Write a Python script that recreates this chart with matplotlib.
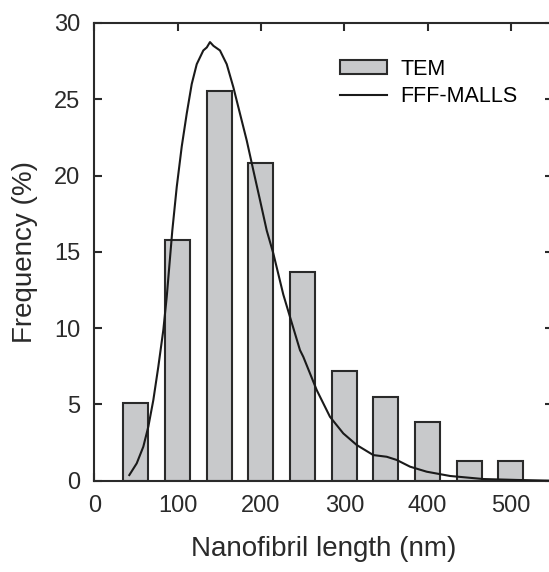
import matplotlib
matplotlib.use("Agg")
import matplotlib.pyplot as plt

plt.rcParams['font.family'] = ['Liberation Sans', 'DejaVu Sans']

bin_centers = [50, 100, 150, 200, 250, 300, 350, 400, 450, 500]
tem_freq = [5.1, 15.76, 25.54, 20.85, 13.65, 7.2, 5.5, 3.82, 1.27, 1.27]

curve_x = [42.0, 50.9, 58.8, 64.8, 70.8, 76.8, 82.8, 86.9, 93.6, 98.9, 104.9,
           110.9, 116.9, 122.9, 130.8, 135.0, 138.8, 143.0, 150.8, 158.9, 166.8,
           174.8, 182.9, 190.8, 198.8, 206.9, 214.8, 226.8, 234.8, 246.8, 250.8,
           266.9, 282.8, 298.8, 314.9, 334.8, 350.9, 362.9, 378.9, 398.9, 426.9,
           466.8, 506.8, 550.0]
curve_y = [0.37, 1.14, 2.23, 3.54, 5.28, 7.47, 9.87, 12.05, 16.4, 19.25, 21.9,
           24.06, 26.0, 27.3, 28.2, 28.4, 28.75, 28.5, 28.2, 27.3, 25.8,
           24.06, 22.3, 20.35, 18.4, 16.4, 14.9, 12.2, 10.74, 8.56, 8.12,
           5.94, 4.19, 3.1, 2.34, 1.68, 1.57, 1.36, 0.92, 0.59, 0.31,
           0.11, 0.05, 0.0]

xticks = [0, 100, 200, 300, 400, 500]
yticks = [0, 5, 10, 15, 20, 25, 30]

fig = plt.figure(figsize=(5.49, 5.72), dpi=100)
ax = fig.add_axes([0.1718, 0.1596, 0.8348, 0.8002])

ax.bar(bin_centers, tem_freq, width=30, color='#c8c9cb', edgecolor='#2a2a2a',
       linewidth=1.5, label='TEM', zorder=2)
ax.plot(curve_x, curve_y, color='#1a1a1a', linewidth=1.5, label='FFF-MALLS', zorder=3)

ax.set_xlim(0, 550)
ax.set_ylim(0, 30)
ax.set_xticks(xticks)
ax.set_yticks(yticks)
ax.tick_params(direction='in', length=6, width=1.5, top=True, right=True,
               labelsize=17, colors='#2a2a2a', pad=10)
for s in ax.spines.values():
    s.set_linewidth(1.5)
    s.set_color('#2a2a2a')

ax.set_xlabel('Nanofibril length (nm)', fontsize=20, color='#2a2a2a', labelpad=14)
ax.set_ylabel('Frequency (%)', fontsize=20, color='#2a2a2a', labelpad=12)

handles, labels = ax.get_legend_handles_labels()
order = [labels.index('TEM'), labels.index('FFF-MALLS')]
ax.legend([handles[i] for i in order], [labels[i] for i in order],
          loc='upper left', bbox_to_anchor=(0.536, 0.922), frameon=False,
          fontsize=15.5, handlelength=2.2, handleheight=0.62, labelspacing=0.3,
          handletextpad=0.62, borderpad=0, borderaxespad=0)

fig.savefig('out.png', dpi=100)
